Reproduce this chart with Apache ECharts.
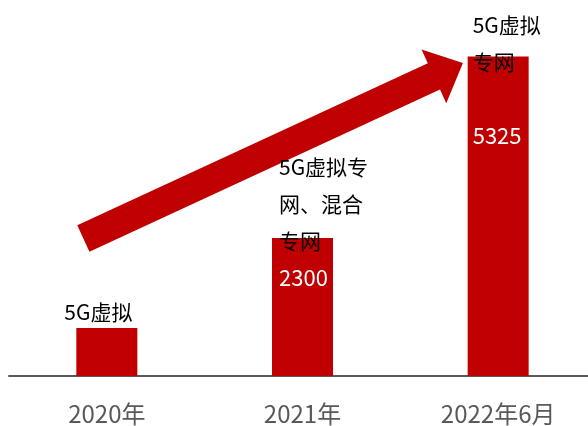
<!DOCTYPE html>
<html>
<head>
<meta charset="utf-8">
<script src="https://cdn.jsdelivr.net/npm/echarts@6/dist/echarts.min.js"></script>
<style>
    html, body { margin: 0; padding: 0; background: #fff; }
    #chart { width: 588px; height: 426px; }
</style>
</head>
<body>
<div id="chart"></div>
<script>
// 数据
var categories = ['2020年', '2021年', '2022年6月'];
var counts = [800, 2300, 5325];
var unit = '个';
var names = ['5G虚拟', '5G虚拟专\n网、混合\n专网', '5G虚拟\n专网'];
// 箭头起止点（类目序号, 数值）
var arrowFrom = [-0.12, 2292];
var arrowTo = [1.82, 5218];

var RED = '#C00000';
var FONT = 'Noto Sans CJK SC';

// 标签位置（相对柱顶左上角）
var namePos = [[-12, -34], [7, -89], [5, -50]];
var numPos = [null, [7, 25], [5, 64]];

var myChart = echarts.init(document.getElementById('chart'));

var barData = counts.map(function (v, i) {
    return {
        value: v,
        label: numPos[i] ? {
            show: true,
            position: numPos[i],
            width: 60,
            overflow: 'truncate',
            ellipsis: ''
        } : { show: false }
    };
});

var nameData = counts.map(function (v, i) {
    return {
        value: v,
        label: { show: true, position: namePos[i], formatter: names[i] }
    };
});

function renderArrow(params, api) {
    function pt(d) {
        var a = api.coord([0, d[1]]);
        var b = api.coord([1, d[1]]);
        return [a[0] + d[0] * (b[0] - a[0]), a[1]];
    }
    var s = pt(arrowFrom), e = pt(arrowTo);
    var dx = e[0] - s[0], dy = e[1] - s[1];
    var len = Math.sqrt(dx * dx + dy * dy);
    var ux = dx / len, uy = dy / len;
    var nx = -uy, ny = ux;
    var hw = 14.5, hh = 29.5, hl = 32;
    var bx = e[0] - ux * hl, by = e[1] - uy * hl;
    var pts = [
        [s[0] + nx * hw, s[1] + ny * hw],
        [bx + nx * hw, by + ny * hw],
        [bx + nx * hh, by + ny * hh],
        [e[0], e[1]],
        [bx - nx * hh, by - ny * hh],
        [bx - nx * hw, by - ny * hw],
        [s[0] - nx * hw, s[1] - ny * hw]
    ];
    return {
        type: 'polygon',
        shape: { points: pts },
        style: { fill: RED }
    };
}

var option = {
    animation: false,
    grid: {
        left: 9,
        right: -8,
        top: 16,
        bottom: 50,
        containLabel: false,
        outerBoundsMode: 'none'
    },
    xAxis: {
        type: 'category',
        data: categories,
        axisLine: { lineStyle: { color: '#595959', width: 2 } },
        axisTick: { show: false },
        axisLabel: {
            color: '#595959',
            fontSize: 24,
            fontFamily: FONT,
            margin: 26
        }
    },
    yAxis: {
        type: 'value',
        min: 0,
        max: 6000,
        show: false,
        splitLine: { show: false }
    },
    series: [
        {
            type: 'custom',
            renderItem: renderArrow,
            data: [[0, 0]],
            clip: false,
            silent: true,
            z: 1
        },
        {
            type: 'bar',
            data: barData,
            barWidth: 61,
            itemStyle: { color: RED },
            label: {
                color: '#fff',
                fontSize: 22,
                fontFamily: FONT,
                lineHeight: 30,
                formatter: function (p) { return p.value + unit; }
            },
            z: 2
        },
        {
            type: 'bar',
            data: nameData,
            barWidth: 61,
            barGap: '-100%',
            itemStyle: { color: 'transparent' },
            label: {
                color: '#000',
                fontSize: 21,
                fontFamily: FONT,
                lineHeight: 37
            },
            z: 3
        }
    ]
};
myChart.setOption(option);
window.addEventListener('resize', myChart.resize);
</script>
</body>
</html>
